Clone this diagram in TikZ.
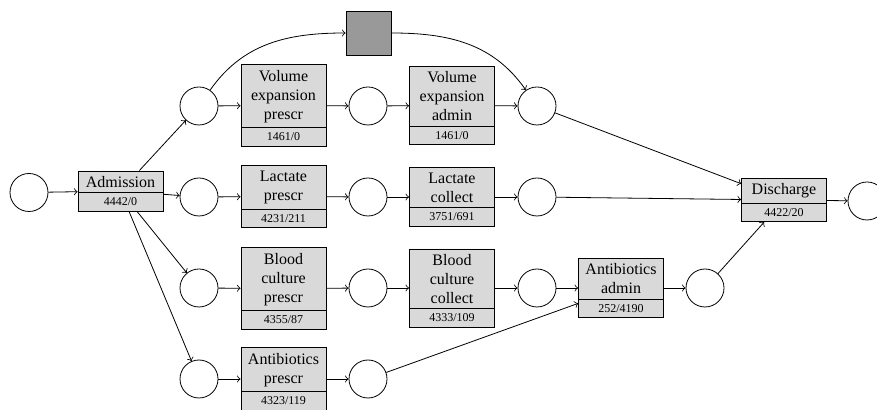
\documentclass[tikz,border=0pt]{standalone}
\usepackage{fontspec}
\setmainfont{Liberation Serif}
\usetikzlibrary{shapes.multipart}
\begin{document}
\begin{tikzpicture}[x=0.5pt,y=-0.5pt,
 place/.style={circle,draw,minimum size=19pt,inner sep=0pt},
 trans/.style={rectangle split,rectangle split parts=2,draw,fill=black!15,
   text width=38pt,inner xsep=2.25pt,inner ysep=2.4pt,align=center,
   font=\fontsize{8}{9.5}\selectfont},
 silent/.style={draw,fill=black!40,minimum width=22.5pt,minimum height=22pt,inner sep=0pt},
 arc/.style={->}]
\useasboundingbox (0,0) rectangle (877,410);
\newcommand{\cnt}[1]{\nodepart{two}{\fontsize{6}{7}\selectfont #1}}
% places
\node[place] (p0) at (29,192.5) {};
\node[place] (p1) at (199,106) {};
\node[place] (p2) at (368,106) {};
\node[place] (p3) at (537,106) {};
\node[place] (p4) at (199,197) {};
\node[place] (p5) at (368,197) {};
\node[place] (p6) at (537,197) {};
\node[place] (p7) at (199,288) {};
\node[place] (p8) at (368,288) {};
\node[place] (p9) at (537,288) {};
\node[place] (p10) at (705,288) {};
\node[place] (p11) at (199,379) {};
\node[place] (p12) at (368,379) {};
\node[place] (pend) at (867,201) {};
% transitions
\node[trans] (adm) at (120.5,191) {Admission \cnt{4442/0}};
\node[trans] (vep) at (283.5,105.5) {Volume\\expansion\\prescr \cnt{1461/0}};
\node[trans] (vea) at (452,105.5) {Volume\\expansion\\admin \cnt{1461/0}};
\node[trans] (lp) at (283.5,196.5) {Lactate\\prescr \cnt{4231/211}};
\node[trans] (lc) at (452,197) {Lactate\\collect \cnt{3751/691}};
\node[trans] (bp) at (283.5,288.5) {Blood\\culture\\prescr \cnt{4355/87}};
\node[trans] (bc) at (452,288) {Blood\\culture\\collect \cnt{4333/109}};
\node[trans] (aa) at (621,288) {Antibiotics\\admin \cnt{252/4190}};
\node[trans] (ap) at (283.5,379) {Antibiotics\\prescr \cnt{4323/119}};
\node[trans] (dis) at (784,200) {Discharge \cnt{4422/20}};
\node[silent] (tau) at (368.5,33) {};
% arcs
\draw[arc] (p0) -- (adm);
\draw[arc] (adm) -- (p1);
\draw[arc] (adm) -- (p4);
\draw[arc] (adm) -- (p7);
\draw[arc] (adm) -- (p11);
\draw[arc] (p1) -- (vep);
\draw[arc] (vep) -- (p2);
\draw[arc] (p2) -- (vea);
\draw[arc] (vea) -- (p3);
\draw[arc] (p1) to[out=55,in=180] (tau);
\draw[arc] (tau) to[out=0,in=125] (p3);
\draw[arc] (p4) -- (lp);
\draw[arc] (lp) -- (p5);
\draw[arc] (p5) -- (lc);
\draw[arc] (lc) -- (p6);
\draw[arc] (p7) -- (bp);
\draw[arc] (bp) -- (p8);
\draw[arc] (p8) -- (bc);
\draw[arc] (bc) -- (p9);
\draw[arc] (p9) -- (aa);
\draw[arc] (aa) -- (p10);
\draw[arc] (p11) -- (ap);
\draw[arc] (ap) -- (p12);
\draw[arc] (p12) -- (aa);
\draw[arc] (p3) -- (dis);
\draw[arc] (p6) -- (dis);
\draw[arc] (p10) -- (dis);
\draw[arc] (dis) -- (pend);
\end{tikzpicture}
\end{document}
